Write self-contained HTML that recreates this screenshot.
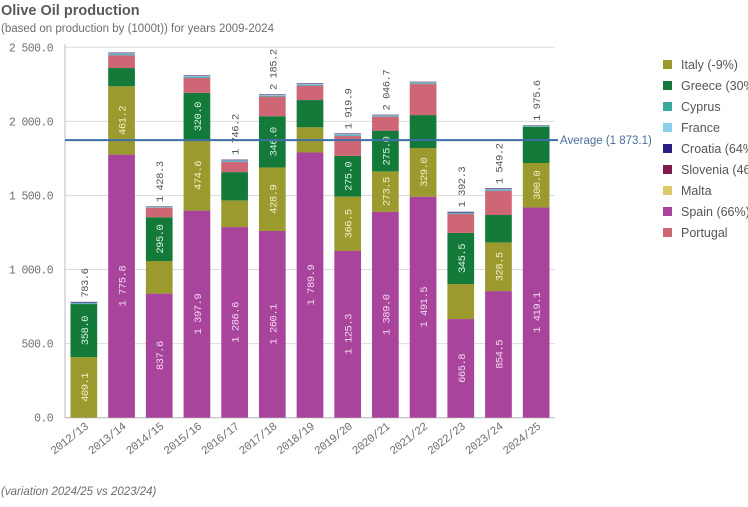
<!DOCTYPE html>
<html><head><meta charset="utf-8"><style>
body{margin:0;width:748px;height:502px;background:#fff;overflow:hidden;font-family:"Liberation Sans",sans-serif}
svg text{font-family:"Liberation Mono",monospace}
</style></head><body>
<svg id="chart" width="748" height="502">
<text x="1" y="15" style="font-family:'Liberation Sans',sans-serif;font-weight:bold;font-size:14.5px" fill="#595959">Olive Oil production</text>
<text x="1" y="32" style="font-family:'Liberation Sans',sans-serif;font-size:11.5px" fill="#6e6e6e">(based on production by (1000t)) for years 2009-2024</text>
<text x="1" y="495" style="font-family:'Liberation Sans',sans-serif;font-size:11.5px;font-style:italic" fill="#6e6e6e">(variation 2024/25 vs 2023/24)</text>
<g id="grid"></g><g id="bars"></g><g id="labels"></g><g id="legend"></g>
</svg>
<script>
const categories=["2012/13","2013/14","2014/15","2015/16","2016/17","2017/18","2018/19","2019/20","2020/21","2021/22","2022/23","2023/24","2024/25"];
const spain=[0,1775.8,837.6,1397.9,1286.6,1260.1,1789.9,1125.3,1389.0,1491.5,665.8,854.5,1419.1];
const italy=[409.1,461.2,220,474.6,180,428.9,170,366.5,273.5,329.0,236,328.5,300.0];
const greece=[358.0,123,295.0,320.0,191,346.0,184,275.0,275.0,222,345.5,185,245];
const portugal=[0,86,65,100,68,132,97,134,94,209,127,162,0];
const cyprus=[4,6,3,6,5,5,5,6,4,5,4,5,3];
const france=[6,8,4,8,7,8,7,8,6,8,6,8,5];
const croatia=[4,4,2,3,4,3,3,3,3,3,5,4,2];
const slovenia=[1,1,1,1,1,1,1,1,1,1,1,1,1];
const malta=[0.4,0.4,0.4,0.4,0.4,0.4,0.4,0.4,0.4,0.4,0.4,0.4,0.4];
const totals=[783.6,2486,1428.3,2330,1746.2,2185.2,2279,1919.9,2046.7,2288,1392.3,1549.2,1975.6];
const yTicks=[0,500,1000,1500,2000,2500];
const yTickLabels=["0.0","500.0","1 000.0","1 500.0","2 000.0","2 500.0"];
const average=1873.1;
const legendNames=["Italy (-9%)","Greece (30%)","Cyprus","France","Croatia (64%)","Slovenia (46%)","Malta","Spain (66%)","Portugal"];

const NS="http://www.w3.org/2000/svg";
const X0=65,X1=555,Y0=417.7,Y1=47.3,VMAX=2500;
const band=(X1-X0)/categories.length,bw=26.7;
const y=v=>Y0-(v/VMAX)*(Y0-Y1);
const xc=i=>X0+band*(i+0.5);
function mk(tag,attrs,parent){const e=document.createElementNS(NS,tag);for(const k in attrs)e.setAttribute(k,attrs[k]);parent.appendChild(e);return e;}
const grid=document.getElementById('grid'),bars=document.getElementById('bars'),labels=document.getElementById('labels'),legend=document.getElementById('legend');
yTicks.forEach((t,i)=>{
  const l=mk('line',{x1:X0,x2:X1,y1:y(t),y2:y(t),stroke:'#dcdcdc','stroke-width':1},grid);
  
  
  const tx=mk('text',{x:X0-12,y:y(t)+4,'text-anchor':'end','font-size':11.5,'letter-spacing':-0.6,fill:'#707070'},grid);
  tx.textContent=yTickLabels[i];
  
  
});
const ax=mk('line',{x1:X0,x2:X0,y1:Y1-3,y2:Y0,stroke:'#bbb'},grid);


const series=[
 {name:'spain',vals:spain,color:'#a8449c',lab:'#f4d8ef'},
 {name:'italy',vals:italy,color:'#9a9a2e',lab:'#f3f0c8'},
 {name:'greece',vals:greece,color:'#137a3a',lab:'#d8f3e0'},
 {name:'portugal',vals:portugal,color:'#cf6676'},
 {name:'cyprus',vals:cyprus,color:'#3aa89a'},
 {name:'france',vals:france,color:'#8fb8d8'},
 {name:'croatia',vals:croatia,color:'#2b1f86'},
 {name:'slovenia',vals:slovenia,color:'#7e1a4c'},
 {name:'malta',vals:malta,color:'#dcc86a'}];
function fmt(v){const s=v.toFixed(1);const [a,b]=s.split('.');return (a.length>3?a.slice(0,-3)+' '+a.slice(-3):a)+'.'+b;}
categories.forEach((c,i)=>{
  let base=0;
  series.forEach(s=>{
    const v=s.vals[i];if(!v)return;
    const r=mk('rect',{x:xc(i)-bw/2,y:y(base+v),width:bw,height:y(base)-y(base+v),fill:s.color},bars);
    
    
    if(s.lab && v>=260){
      const cy=(y(base)+y(base+v))/2;
      const t=mk('text',{x:xc(i),y:cy,'text-anchor':'middle','font-size':10.5,'letter-spacing':-0.5,fill:s.lab,transform:`rotate(-90 ${xc(i)} ${cy}) translate(0 4)`},labels);
      t.textContent=fmt(v);
      
      
    }
    base+=v;
  });
  if(totals[i]<2200){
    const ty=y(totals[i])-4;
    const t=mk('text',{x:xc(i),y:ty,'text-anchor':'start','font-size':10.5,'letter-spacing':-0.5,fill:'#555',transform:`rotate(-90 ${xc(i)} ${ty}) translate(0 4)`},labels);
    t.textContent=fmt(totals[i]);
    
    
  }
  const lx=xc(i)+5,ly=Y0+10;
  const xl=mk('text',{x:lx,y:ly,'text-anchor':'end','font-size':11.5,'letter-spacing':-0.6,fill:'#707070',transform:`rotate(-38 ${lx} ${ly})`},labels);
  xl.textContent=c;
  
  
});
const bx=mk('line',{x1:X0,x2:X1,y1:Y0,y2:Y0,stroke:'#bbb'},grid);


const ay=y(average);
const al=mk('line',{x1:X0,x2:X1+3,y1:ay,y2:ay,stroke:'#3d6fa6','stroke-width':2},labels);


const at=mk('text',{x:X1+5,y:ay+4,'font-size':11.5,fill:'#4a6e9a',style:"font-family:'Liberation Sans',sans-serif"},labels);
at.textContent='Average (1 873.1)';


const legColors=['#9a9a2e','#137a3a','#3aa89a','#8ccfe8','#2b1f86','#7e1a4c','#dcc86a','#a8449c','#cf6676'];
legendNames.forEach((n,i)=>{
  const ly=65+i*21;
  const r=mk('rect',{x:663,y:ly-5,width:9,height:9,fill:legColors[i]},legend);
  
  
  const t=mk('text',{x:681,y:ly+4,'font-size':12.5,fill:'#555',style:"font-family:'Liberation Sans',sans-serif"},legend);
  t.textContent=n;
  
  
});
</script>
</body></html>
